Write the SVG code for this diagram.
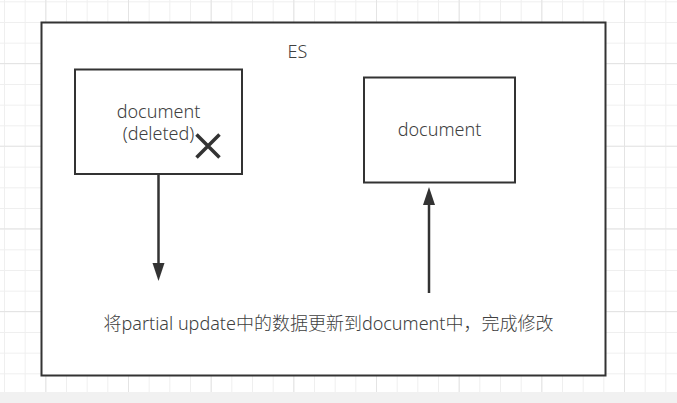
<svg xmlns="http://www.w3.org/2000/svg" width="677" height="403" viewBox="0 0 677 403">
  <defs>
    <pattern id="minor" patternUnits="userSpaceOnUse" x="4" y="1.33" width="20.667" height="20.667">
      <path d="M0.5 0 V20.667 M0 0.5 H20.667" fill="none" stroke="#efefef" stroke-width="1"/>
    </pattern>
    <pattern id="major" patternUnits="userSpaceOnUse" x="45.33" y="63" width="82.667" height="82.667">
      <path d="M0.5 0 V82.667 M0 0.5 H82.667" fill="none" stroke="#e4e4e4" stroke-width="1"/>
    </pattern>
    <style>
      .box { fill: #fff; stroke: #333; stroke-width: 2; }
      .lbl { font-family: "Noto Sans", "Noto Sans CJK SC", sans-serif; font-size: 18px; fill: #404040; font-weight: 300; }
      .edge { stroke: #333; stroke-width: 2.5; fill: none; }
      .head { fill: #333; }
    </style>
  </defs>
  <rect width="677" height="403" fill="#fff"/>
  <rect width="677" height="392" fill="url(#minor)"/>
  <rect width="677" height="392" fill="url(#major)"/>
  <rect y="392" width="677" height="11" fill="#f1f1f1"/>

  <g id="es">
    <rect class="box" x="41.5" y="22.5" width="564" height="353"/>
    <text class="lbl" x="297.5" y="58" text-anchor="middle">ES</text>
  </g>

  <g id="doc-deleted">
    <rect class="box" x="75" y="69.5" width="167" height="104.5"/>
    <text class="lbl" x="158.5" y="118" text-anchor="middle">document</text>
    <text class="lbl" x="158.5" y="140" text-anchor="middle">(deleted)</text>
    <path d="M196.5 134.5 L219.5 157.5 M219.5 134.5 L196.5 157.5" stroke="#333" stroke-width="3.5" fill="none"/>
  </g>

  <g id="doc-new">
    <rect class="box" x="364" y="77.5" width="151" height="105"/>
    <text class="lbl" x="439.5" y="136" text-anchor="middle">document</text>
  </g>

  <g id="note">
    <text class="lbl" x="328.5" y="330" text-anchor="middle">将partial update中的数据更新到document中，完成修改</text>
  </g>

  <g id="connectors">
    <line class="edge" x1="158.5" y1="175" x2="158.5" y2="266"/>
    <path class="head" d="M152.5 263 L158.5 281 L164.5 263 Z"/>
    <line class="edge" x1="429" y1="293" x2="429" y2="202"/>
    <path class="head" d="M423 205 L429 187 L435 205 Z"/>
  </g>
</svg>
